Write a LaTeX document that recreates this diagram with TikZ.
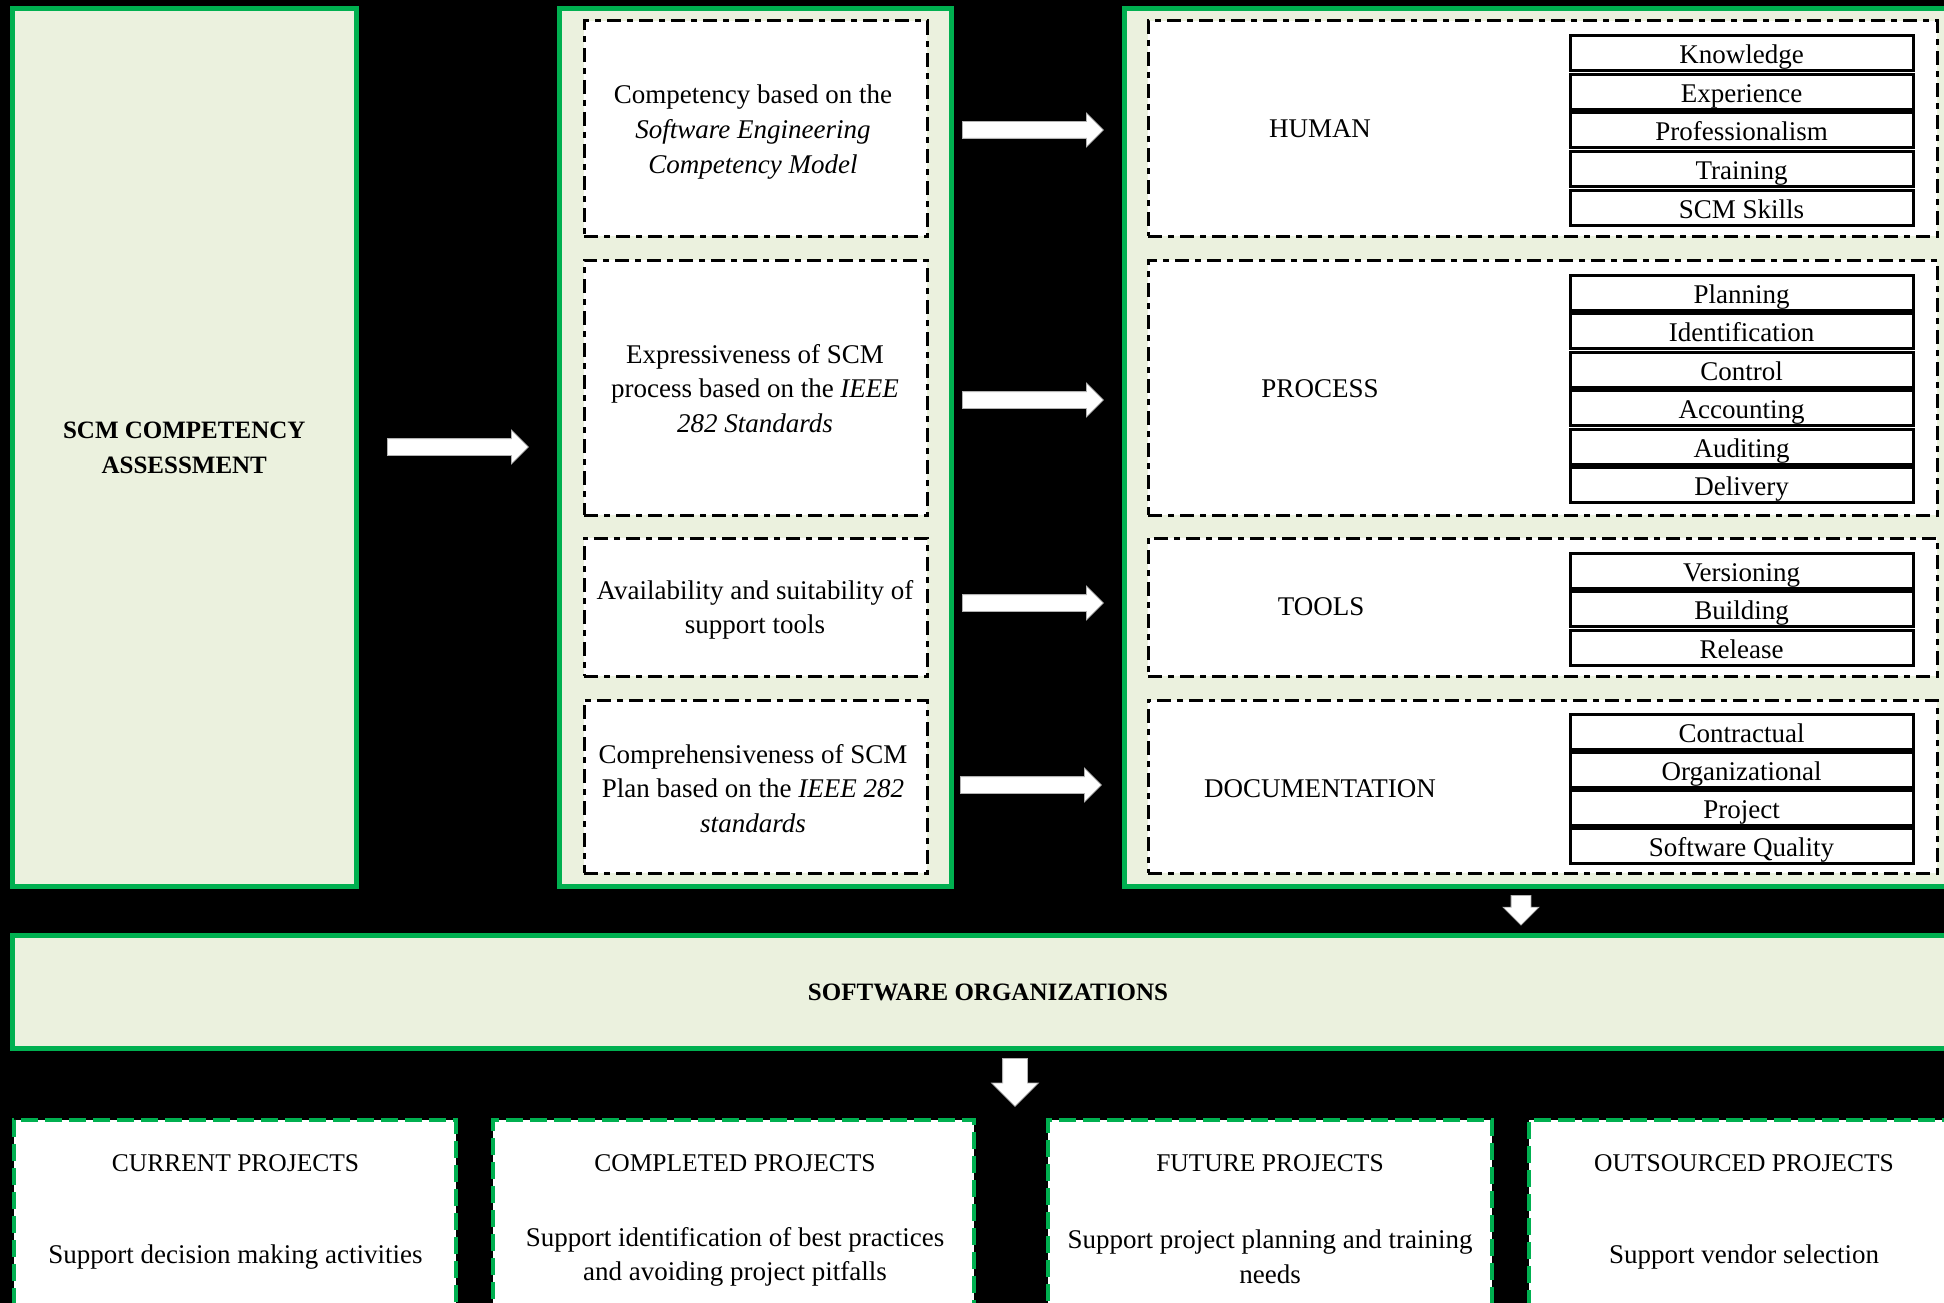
\documentclass[tikz,border=0pt]{standalone}
\usepackage{fontspec}
\setmainfont{Liberation Serif}
\usetikzlibrary{shapes.arrows}
\definecolor{grn}{HTML}{00B050}
\definecolor{pale}{HTML}{EBF1DE}
\tikzset{
 greenbox/.style={draw=grn, line width=5pt, fill=pale, inner sep=0pt},
 dashbox/.style={draw=black, line width=3pt, fill=white, dash pattern=on 14pt off 6pt on 6pt off 6pt, inner sep=0pt},
 subbox/.style={draw=black, line width=3pt, fill=white, minimum width=343pt, minimum height=35pt, inner sep=0pt, anchor=north, font=\fontsize{27}{32}\selectfont, text height=22.5pt, text depth=1.5pt},
 projbox/.style={draw=grn, line width=4pt, fill=white, dash pattern=on 17pt off 7pt, inner sep=0pt},
 blockarrow/.style={single arrow, fill=white, draw=gray!60, line width=0.8pt, inner sep=8pt, single arrow head extend=8.5pt, minimum height=141pt, anchor=tail},
 txt/.style={font=\fontsize{27}{34.7}\selectfont, align=center, inner sep=0pt},
 ttxt/.style={font=\fontsize{25.5}{34.7}\selectfont, align=center, inner sep=0pt},
 btxt/.style={font=\fontsize{25}{35}\selectfont\bfseries, align=center, inner sep=0pt},
}
\begin{document}
\begin{tikzpicture}[x=1pt,y=-1pt]
\useasboundingbox (0,0) rectangle (1944,1303);
\clip (0,0) rectangle (1944,1303);
\fill[black] (0,0) rectangle (1944,1303);

% top green panels
\node[greenbox, minimum width=343.5pt, minimum height=877.5pt] (left) at (184.25,447.25) {};
\node[btxt] (lefttxt) at (184.25,448) {SCM COMPETENCY\\ASSESSMENT};
\node[greenbox, minimum width=392pt, minimum height=877.5pt] (mid) at (755,447.25) {};
\node[greenbox, minimum width=846pt, minimum height=877.5pt] (right) at (1547,447.25) {};

% middle dashed boxes
\node[dashbox, minimum width=343pt, minimum height=215pt] (c1) at (755.5,128.5) {};
\node[dashbox, minimum width=343pt, minimum height=255pt] (c2) at (755.5,387.5) {};
\node[dashbox, minimum width=343pt, minimum height=138pt] (c3) at (755.5,607) {};
\node[dashbox, minimum width=343pt, minimum height=173pt] (c4) at (755.5,786.5) {};
\node[txt] (c1t) at (753,132)
  {Competency based on the\\\textit{Software Engineering}\\\textit{Competency Model}};
\node[txt] (c2t) at (755,388.5)
  {Expressiveness of SCM\\process based on the \textit{IEEE}\\\textit{282 Standards}};
\node[txt] (c3t) at (755,610)
  {Availability and suitability of\\support tools};
\node[txt] (c4t) at (753,788.5)
  {Comprehensiveness of SCM\\Plan based on the \textit{IEEE 282}\\\textit{standards}};

% right dashed boxes
\node[dashbox, minimum width=789pt, minimum height=215pt] (r1) at (1542.5,128.5) {};
\node[dashbox, minimum width=789pt, minimum height=255pt] (r2) at (1542.5,387.5) {};
\node[dashbox, minimum width=789pt, minimum height=138pt] (r3) at (1542.5,607) {};
\node[dashbox, minimum width=789pt, minimum height=173pt] (r4) at (1542.5,786.5) {};
\node[txt] (l1) at (1320,129) {HUMAN};
\node[txt] (l2) at (1320,389) {PROCESS};
\node[txt] (l3) at (1321,607) {TOOLS};
\node[txt] (l4) at (1320,789) {DOCUMENTATION};

% sub boxes
\foreach \t [count=\i from 0] in {Knowledge,Experience,Professionalism,Training,SCM Skills}
  \node[subbox] (h\i) at (1741.5,{34+38.75*\i}) {\t};
\foreach \t [count=\i from 0] in {Planning,Identification,Control,Accounting,Auditing,Delivery}
  \node[subbox] (p\i) at (1741.5,{274+38.4*\i}) {\t};
\foreach \t [count=\i from 0] in {Versioning,Building,Release}
  \node[subbox] (t\i) at (1741.5,{552+38.4*\i}) {\t};
\foreach \t [count=\i from 0] in {Contractual,Organizational,Project,Software Quality}
  \node[subbox] (d\i) at (1741.5,{713+38*\i}) {\t};

% arrows
\node[blockarrow] (a0) at (387,447) {};
\node[blockarrow] (a1) at (962,130) {};
\node[blockarrow] (a2) at (962,400) {};
\node[blockarrow] (a3) at (962,603) {};
\node[blockarrow] (a4) at (960,785) {};
\node[blockarrow, shape border rotate=270, inner sep=9.5pt, minimum height=28pt, single arrow head extend=8pt] (a5) at (1521,895) {};

% software organizations
\node[greenbox, minimum width=1957.5pt, minimum height=113pt] (org) at (991.25,991.5) {};
\node[btxt] (orgtxt) at (988,992.5) {SOFTWARE ORGANIZATIONS};
\node[blockarrow, shape border rotate=270, inner sep=12pt, minimum height=48pt, single arrow head extend=11pt] (a6) at (1015,1058) {};

% project boxes
\node[projbox, minimum width=442pt, minimum height=220pt] (b1) at (235,1230) {};
\node[projbox, minimum width=481pt, minimum height=220pt] (b2) at (733.5,1230) {};
\node[projbox, minimum width=444pt, minimum height=220pt] (b3) at (1270,1230) {};
\node[projbox, minimum width=441pt, minimum height=220pt] (b4) at (1749.5,1230) {};
\node[ttxt] (b1t) at (235.5,1163) {CURRENT PROJECTS};
\node[ttxt] (b2t) at (735,1163) {COMPLETED PROJECTS};
\node[ttxt] (b3t) at (1270,1163) {FUTURE PROJECTS};
\node[ttxt] (b4t) at (1744,1163) {OUTSOURCED PROJECTS};
\node[txt] (b1b) at (235.5,1257) {Support decision making activities};
\node[txt] (b2b) at (735,1257) {Support identification of best practices\\and avoiding project pitfalls};
\node[txt] (b3b) at (1270,1256.5) {Support project planning and training\\needs};
\node[txt] (b4b) at (1744,1257) {Support vendor selection};
\end{tikzpicture}
\end{document}
